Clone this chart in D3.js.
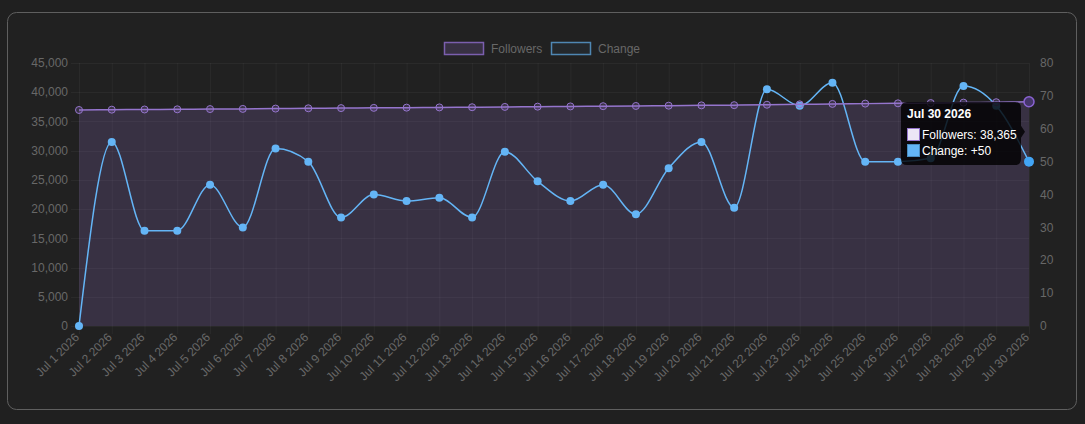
<!DOCTYPE html>
<html>
<head>
<meta charset="utf-8">
<script src="https://cdn.jsdelivr.net/npm/d3@7"></script>
<style>
  html, body { margin: 0; padding: 0; background: #202020; }
  body { width: 1085px; height: 424px; overflow: hidden; font-family: "Liberation Sans", Arial, Helvetica, sans-serif; }
  #container { position: absolute; left: 0; top: 0; }
</style>
</head>
<body>
<div id="container"></div>
<script>
/* CONSTANTS AND GLOBALS */
const width = 1085,
  height = 424,
  margin = { top: 63, bottom: 98, left: 79, right: 56 };

/* DATA */
const dates = ["Jul 1 2026", "Jul 2 2026", "Jul 3 2026", "Jul 4 2026", "Jul 5 2026", "Jul 6 2026",
  "Jul 7 2026", "Jul 8 2026", "Jul 9 2026", "Jul 10 2026", "Jul 11 2026", "Jul 12 2026",
  "Jul 13 2026", "Jul 14 2026", "Jul 15 2026", "Jul 16 2026", "Jul 17 2026", "Jul 18 2026",
  "Jul 19 2026", "Jul 20 2026", "Jul 21 2026", "Jul 22 2026", "Jul 23 2026", "Jul 24 2026",
  "Jul 25 2026", "Jul 26 2026", "Jul 27 2026", "Jul 28 2026", "Jul 29 2026", "Jul 30 2026"];

const followers = [36960, 37016, 37045, 37074, 37117, 37147, 37201, 37251, 37284, 37324,
  37362, 37401, 37434, 37487, 37531, 37569, 37612, 37646, 37694, 37750,
  37786, 37858, 37925, 37999, 38049, 38099, 38150, 38223, 38290, 38365];

const change = [0, 56, 29, 29, 43, 30, 54, 50, 33, 40,
  38, 39, 33, 53, 44, 38, 43, 34, 48, 56,
  36, 72, 67, 74, 50, 50, 51, 73, 67, 50];

const leftTicks = [0, 5000, 10000, 15000, 20000, 25000, 30000, 35000, 40000, 45000];
const rightTicks = [0, 10, 20, 30, 40, 50, 60, 70, 80];

const activeIndex = 29; // hovered point (tooltip)

/* COLORS */
const purple = "#9575cd",
  blue = "#64b5f6",
  gridColor = "rgba(255,255,255,0.045)",
  textColor = "#686868";

const svg = d3.select("#container")
  .append("svg")
  .attr("width", width)
  .attr("height", height);

/* outer card */
svg.append("rect")
  .attr("x", 7.5).attr("y", 12.5)
  .attr("width", 1069).attr("height", 397)
  .attr("rx", 9)
  .attr("fill", "#212121")
  .attr("stroke", "#5f5f5f");

/* SCALES */
const xScale = d3.scalePoint()
  .domain(dates)
  .range([margin.left, width - margin.right]);

const yLeft = d3.scaleLinear()
  .domain([0, 45000])
  .range([height - margin.bottom, margin.top]);

const yRight = d3.scaleLinear()
  .domain([0, 80])
  .range([height - margin.bottom, margin.top]);

const bottom = height - margin.bottom;

/* GRID */
const grid = svg.append("g");
grid.selectAll("line.v")
  .data(dates)
  .join("line")
  .attr("class", "v")
  .attr("x1", d => xScale(d) + 0.5).attr("x2", d => xScale(d) + 0.5)
  .attr("y1", margin.top).attr("y2", bottom + 8)
  .attr("stroke", gridColor);
grid.selectAll("line.h")
  .data(leftTicks)
  .join("line")
  .attr("class", "h")
  .attr("x1", margin.left - 8).attr("x2", width - margin.right)
  .attr("y1", d => Math.round(yLeft(d)) + 0.5).attr("y2", d => Math.round(yLeft(d)) + 0.5)
  .attr("stroke", gridColor);

/* FOLLOWERS AREA */
const area = d3.area()
  .x((d, i) => xScale(dates[i]))
  .y0(bottom)
  .y1(d => yLeft(d));

svg.append("path")
  .datum(followers)
  .attr("d", area)
  .attr("fill", purple)
  .attr("fill-opacity", 0.2);

/* CHANGE LINE */
const changeLine = d3.line()
  .x((d, i) => xScale(dates[i]))
  .y(d => yRight(d))
  .curve(d3.curveMonotoneX);

svg.append("path")
  .datum(change)
  .attr("d", changeLine)
  .attr("fill", "none")
  .attr("stroke", blue)
  .attr("stroke-width", 1.5);

svg.selectAll("circle.change")
  .data(change)
  .join("circle")
  .attr("class", "change")
  .attr("cx", (d, i) => xScale(dates[i]))
  .attr("cy", d => yRight(d))
  .attr("r", (d, i) => i === activeIndex ? 5 : 4)
  .attr("fill", (d, i) => i === activeIndex ? "#42a5f5" : blue);

/* FOLLOWERS LINE */
const followersLine = d3.line()
  .x((d, i) => xScale(dates[i]))
  .y(d => yLeft(d))
  .curve(d3.curveMonotoneX);

svg.append("path")
  .datum(followers)
  .attr("d", followersLine)
  .attr("fill", "none")
  .attr("stroke", purple)
  .attr("stroke-width", 1.5);

svg.selectAll("circle.followers")
  .data(followers)
  .join("circle")
  .attr("class", "followers")
  .attr("cx", (d, i) => xScale(dates[i]))
  .attr("cy", d => yLeft(d))
  .attr("r", (d, i) => i === activeIndex ? 5 : 3.5)
  .attr("fill", (d, i) => i === activeIndex ? "#45366a" : "rgba(149,117,205,0.2)")
  .attr("stroke", (d, i) => i === activeIndex ? "#8a63d2" : purple)
  .attr("stroke-width", (d, i) => i === activeIndex ? 1.5 : 1);

/* AXES LABELS */
svg.selectAll("text.left")
  .data(leftTicks)
  .join("text")
  .attr("class", "left")
  .attr("x", margin.left - 11)
  .attr("y", d => yLeft(d))
  .attr("dy", "0.35em")
  .attr("text-anchor", "end")
  .attr("font-size", 12)
  .attr("fill", textColor)
  .text(d => d3.format(",")(d));

svg.selectAll("text.right")
  .data(rightTicks)
  .join("text")
  .attr("class", "right")
  .attr("x", width - margin.right + 11)
  .attr("y", d => yRight(d))
  .attr("dy", "0.35em")
  .attr("text-anchor", "start")
  .attr("font-size", 12)
  .attr("fill", textColor)
  .text(d => d);

svg.selectAll("text.xlab")
  .data(dates)
  .join("text")
  .attr("class", "xlab")
  .attr("text-anchor", "end")
  .attr("font-size", 12)
  .attr("fill", textColor)
  .attr("transform", d => `translate(${xScale(d) + 1}, ${bottom + 12}) rotate(-45)`)
  .text(d => d);

/* LEGEND */
const legendItems = [
  { label: "Followers", stroke: "#7b5fae", fill: "rgba(149,117,205,0.2)", x: 444 },
  { label: "Change", stroke: "#4f87b3", fill: "rgba(100,181,246,0.05)", x: 551 }
];
const legend = svg.selectAll("g.legend")
  .data(legendItems)
  .join("g")
  .attr("class", "legend")
  .attr("transform", d => `translate(${d.x}, 42)`);
legend.append("rect")
  .attr("x", 0.5).attr("y", 0.5)
  .attr("width", 39).attr("height", 12)
  .attr("fill", d => d.fill)
  .attr("stroke", d => d.stroke)
  .attr("stroke-width", 1.5);
legend.append("text")
  .attr("x", 47).attr("y", 6.5)
  .attr("dy", "0.35em")
  .attr("font-size", 12)
  .attr("fill", textColor)
  .text(d => d.label);

/* TOOLTIP */
const tipX = 901, tipY = 102, tipW = 120, tipH = 63;
const caretX = xScale(dates[activeIndex]) - 4;
const caretY = (yLeft(followers[activeIndex]) + yRight(change[activeIndex])) / 2;
const tip = svg.append("g");
tip.append("path")
  .attr("d", `M${tipX + 6},${tipY} H${tipX + tipW - 6} Q${tipX + tipW},${tipY} ${tipX + tipW},${tipY + 6}
    V${caretY - 6} L${caretX},${caretY} L${tipX + tipW},${caretY + 6}
    V${tipY + tipH - 6} Q${tipX + tipW},${tipY + tipH} ${tipX + tipW - 6},${tipY + tipH}
    H${tipX + 6} Q${tipX},${tipY + tipH} ${tipX},${tipY + tipH - 6} V${tipY + 6} Q${tipX},${tipY} ${tipX + 6},${tipY} Z`)
  .attr("fill", "rgba(0,0,0,0.8)");

tip.append("text")
  .attr("x", tipX + 6).attr("y", tipY + 16)
  .attr("font-size", 12).attr("font-weight", "bold")
  .attr("fill", "#fff")
  .text(dates[activeIndex]);

const tipRows = [
  { text: "Followers: " + d3.format(",")(followers[activeIndex]), fill: "#ece6f6", stroke: purple },
  { text: "Change: +" + change[activeIndex], fill: blue, stroke: "#4a8cc0" }
];
tip.selectAll("g.row")
  .data(tipRows)
  .join("g")
  .attr("class", "row")
  .attr("transform", (d, i) => `translate(${tipX + 6}, ${tipY + 26 + i * 16})`)
  .call(g => {
    g.append("rect")
      .attr("x", 0.5).attr("y", 0.5)
      .attr("width", 12).attr("height", 12)
      .attr("fill", d => d.fill)
      .attr("stroke", d => d.stroke)
      .attr("stroke-width", 1);
    g.append("text")
      .attr("x", 15).attr("y", 6.5)
      .attr("dy", "0.35em")
      .attr("font-size", 12)
      .attr("fill", "#fff")
      .text(d => d.text);
  });
</script>
</body>
</html>
